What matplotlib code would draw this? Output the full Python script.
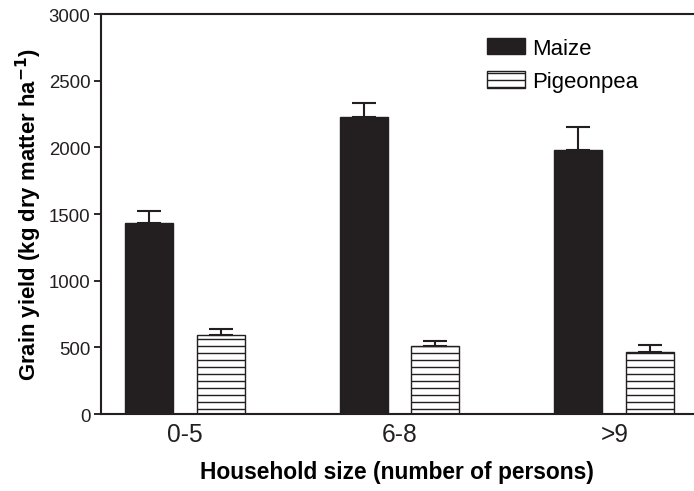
import numpy as np
from matplotlib import pyplot as plt

plt.rcParams['font.family'] = ['Liberation Sans', 'DejaVu Sans']
plt.rcParams['hatch.linewidth'] = 1.2

# data
groups = ['0-5', '6-8', '>9']
maize = [1433, 2228, 1980]
maize_err = [90, 105, 173]
pigeonpea = [593, 510, 465]
pigeonpea_err = [45, 38, 53]

DPI = 84
fig = plt.figure(figsize=(694 / DPI, 492 / DPI), dpi=DPI)
ax = fig.add_axes([0.1455, 0.1565, 0.854, 0.813])

x = np.arange(len(groups))
w = 0.223
off = 0.167
err_kw = dict(ecolor='#231f20', elinewidth=1.8, capthick=1.8)

ax.bar(x - off, maize, w, color='#231f20', edgecolor='#231f20', linewidth=1.2,
       yerr=[np.zeros(3), maize_err], capsize=10, error_kw=err_kw, label='Maize')
ax.bar(x + off, pigeonpea, w, color='white', edgecolor='#231f20', linewidth=1.2,
       hatch='--', yerr=[np.zeros(3), pigeonpea_err], capsize=10, error_kw=err_kw,
       label='Pigeonpea')

ax.set_xlim(-0.39, 2.37)
ax.set_ylim(0, 3000)
ax.set_yticks(range(0, 3001, 500))
ax.set_xticks(x)
ax.set_xticklabels(groups, fontsize=21)
ax.tick_params(axis='x', length=0, pad=7, colors='#231f20')
ax.tick_params(axis='y', length=6, width=1.6, labelsize=16, pad=3, colors='#231f20')

for s in ['left', 'bottom', 'top']:
    ax.spines[s].set_linewidth(1.8)
    ax.spines[s].set_color('#231f20')
ax.spines['right'].set_visible(False)

ax.set_xlabel('Household size (number of persons)', fontsize=19.5, fontweight='bold', labelpad=12)
ax.set_ylabel('Grain yield (kg dry matter ha$^{\\mathbf{-1}}$)', fontsize=19,
              fontweight='bold', labelpad=4)

ax.legend(loc='upper left', bbox_to_anchor=(0.617, 0.99), frameon=False, fontsize=19,
          handlelength=1.75, handleheight=0.75, handletextpad=0.3, labelspacing=0.55)

fig.savefig('out.png', dpi=DPI)
